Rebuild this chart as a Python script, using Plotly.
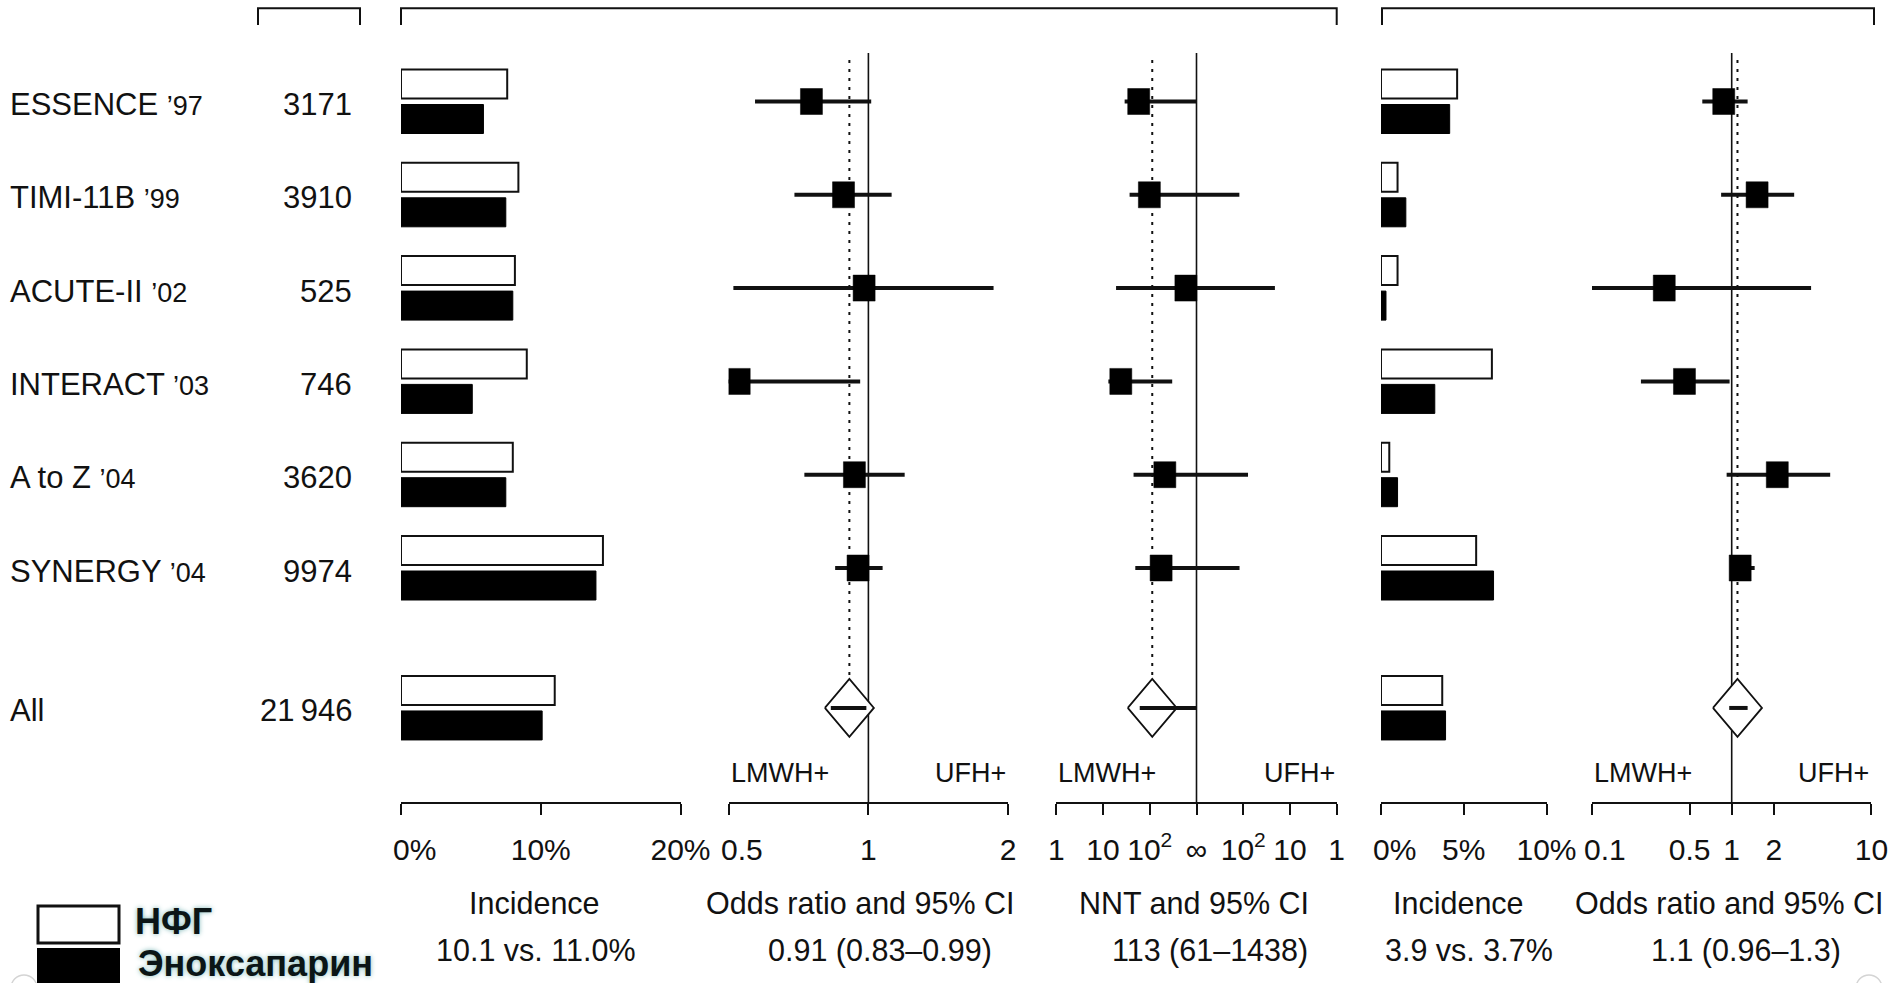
import math
import plotly.graph_objects as go

W, H = 1893, 983

# ---------------- data ----------------
trials = ["ESSENCE", "TIMI-11B", "ACUTE-II", "INTERACT", "A to Z", "SYNERGY", "All"]
years = ["’97", "’99", "’02", "’03", "’04", "’04", ""]
n_patients = ["3171", "3910", "525", "746", "3620", "9974", "21\u2009946"]
row_pos = [0, 1, 2, 3, 4, 5, 6.5]

# Death / MI incidence (%)
eff_ufh = [7.6, 8.4, 8.15, 9.0, 8.0, 14.45, 11.0]
eff_enox = [5.9, 7.5, 8.0, 5.1, 7.5, 13.95, 10.1]
# odds ratios, individual trials
eff_or = [0.754, 0.884, 0.979, 0.527, 0.933, 0.95]
eff_or_lo = [0.57, 0.693, 0.512, 0.497, 0.728, 0.848]
eff_or_hi = [1.014, 1.122, 1.86, 0.96, 1.197, 1.073]
eff_pooled = [0.91, 0.83, 0.99]

# NNT (positive = LMWH benefit, negative = NNH, inf = infinity)
nnt = [58, 98, 593, 24, 210, 175]
nnt_lo = [29, 37, 19, 13, 45, 49]
nnt_hi = [math.inf, -121, -21, 302, -79, -120]
nnt_pooled = [113, 61, 1438]

# Bleeding incidence (%)
bld_ufh = [4.6, 1.0, 1.0, 6.7, 0.5, 5.75, 3.7]
bld_enox = [4.15, 1.5, 0.3, 3.25, 1.0, 6.8, 3.9]
bld_or = [0.877, 1.52, 0.329, 0.459, 2.12, 1.15]
bld_or_lo = [0.616, 0.84, 0.1, 0.224, 0.92, 1.0]
bld_or_hi = [1.30, 2.8, 3.7, 0.966, 5.07, 1.46]
bld_pooled = [1.1, 0.96, 1.3]

panel_titles = ["Incidence", "Odds ratio and 95% CI", "NNT and 95% CI",
                "Incidence", "Odds ratio and 95% CI"]
panel_subtitles = ["10.1 vs. 11.0%", "0.91 (0.83–0.99)", "113 (61–1438)",
                   "3.9 vs. 3.7%", "1.1 (0.96–1.3)"]
legend_labels = ["НФГ", "Эноксапарин"]

inc1_ticks = [0, 10, 20]
inc2_ticks = [0, 5, 10]
or1_ticks = [0.5, 1, 2]
or2_ticks = [0.1, 0.5, 1, 2, 10]
nnt_tick_text = ["1", "10", "10<sup>2</sup>", "∞", "10<sup>2</sup>", "10", "1"]

# ---------------- geometry ----------------
FONT = "Liberation Sans, Arial, sans-serif"
INK = "#111111"
ROW0_PX, ROW_PX = 101.5, 93.3
AXIS_PX = 803
TICKLABEL_PX = 849
FIRST_LABEL_SHIFT = 13   # the first label of a panel sits a little right of its tick


def py(px):
    return (px - ROW0_PX) / ROW_PX


def pfy(px):
    return 1 - px / H


def nnt_scale(v):
    if v == math.inf:
        return 0.0
    if v > 0:
        return min(0.0, -(3 - math.log10(v)))
    return max(0.0, 3 - math.log10(-v))


lg = math.log10
panels = {
    "x": (401, 680.5, 0, 20),
    "x2": (728.6, 1008.2, lg(0.5), lg(2)),
    "x3": (1056.3, 1336.7, -3, 3),
    "x4": (1381, 1546.5, 0, 10),
    "x5": (1592, 1871.4, -1, 1),
}


def ppu(ax):
    l, r, a, b = panels[ax]
    return (r - l) / (b - a)


fig = go.Figure()

# ---- incidence bars ----
BAR_W = 29 / ROW_PX
BAR_GAP = 3 / ROW_PX
for ax, ufh, enox in (("x", eff_ufh, eff_enox), ("x4", bld_ufh, bld_enox)):
    fig.add_trace(go.Bar(x=ufh, y=row_pos, orientation="h", base=0,
                         offset=-(BAR_W + BAR_GAP), width=BAR_W,
                         marker=dict(color="white", line=dict(color=INK, width=2)),
                         xaxis=ax, yaxis="y", showlegend=False, hoverinfo="skip"))
    fig.add_trace(go.Bar(x=enox, y=row_pos, orientation="h", base=0,
                         offset=BAR_GAP, width=BAR_W,
                         marker=dict(color="black", line=dict(color="black", width=1)),
                         xaxis=ax, yaxis="y", showlegend=False, hoverinfo="skip"))

# ---- forest panels ----
SOLID_TOP = py(53)
DOT_TOP = py(60)
AXIS_Y = py(AXIS_PX)
SQ_HW_PX, SQ_HH = 11, 13 / ROW_PX
DM_HW_PX, DM_HH = 24.5, 29 / ROW_PX

forest = [
    ("x2", [lg(v) for v in eff_or], [lg(v) for v in eff_or_lo], [lg(v) for v in eff_or_hi],
     [lg(v) for v in eff_pooled], 0.0),
    ("x3", [nnt_scale(v) for v in nnt], [nnt_scale(v) for v in nnt_lo],
     [nnt_scale(v) for v in nnt_hi], [nnt_scale(v) for v in nnt_pooled], 0.0),
    ("x5", [lg(v) for v in bld_or], [lg(v) for v in bld_or_lo], [lg(v) for v in bld_or_hi],
     [lg(v) for v in bld_pooled], 0.0),
]

for ax, est, lo, hi, pooled, null in forest:
    u = ppu(ax)
    fig.add_trace(go.Scatter(x=[null, null], y=[SOLID_TOP, AXIS_Y], mode="lines",
                             line=dict(color=INK, width=1.6), xaxis=ax, yaxis="y",
                             showlegend=False, hoverinfo="skip"))
    fig.add_trace(go.Scatter(x=[pooled[0], pooled[0]], y=[DOT_TOP, row_pos[-1]], mode="lines",
                             line=dict(color=INK, width=2, dash="3px,6px"), xaxis=ax, yaxis="y",
                             showlegend=False, hoverinfo="skip"))
    xs, ys = [], []
    for a, b, y in zip(lo, hi, row_pos):
        xs += [a, b, None]
        ys += [y, y, None]
    fig.add_trace(go.Scatter(x=xs, y=ys, mode="lines", line=dict(color=INK, width=4),
                             xaxis=ax, yaxis="y", showlegend=False, hoverinfo="skip"))
    hw = SQ_HW_PX / u
    xs, ys = [], []
    for e, y in zip(est, row_pos):
        xs += [e - hw, e + hw, e + hw, e - hw, e - hw, None]
        ys += [y - SQ_HH, y - SQ_HH, y + SQ_HH, y + SQ_HH, y - SQ_HH, None]
    fig.add_trace(go.Scatter(x=xs, y=ys, mode="lines", fill="toself", fillcolor="black",
                             line=dict(color="black", width=0.5), xaxis=ax, yaxis="y",
                             showlegend=False, hoverinfo="skip"))
    dhw = DM_HW_PX / u
    yc = row_pos[-1]
    c = pooled[0]
    fig.add_trace(go.Scatter(x=[c - dhw, c, c + dhw, c, c - dhw],
                             y=[yc, yc - DM_HH, yc, yc + DM_HH, yc],
                             mode="lines", fill="toself", fillcolor="white",
                             line=dict(color=INK, width=1.8), xaxis=ax, yaxis="y",
                             showlegend=False, hoverinfo="skip"))
    fig.add_trace(go.Scatter(x=[pooled[1], pooled[2]], y=[yc, yc], mode="lines",
                             line=dict(color=INK, width=4), xaxis=ax, yaxis="y",
                             showlegend=False, hoverinfo="skip"))

# ---- axes ----
axis_common = dict(anchor="free", position=pfy(AXIS_PX), showline=True, linecolor=INK,
                   linewidth=2, ticks="outside", ticklen=11, tickwidth=2, tickcolor=INK,
                   ticklabelstandoff=9,
                   showgrid=False, zeroline=False, fixedrange=True, automargin=False,
                   tickfont=dict(family=FONT, size=30, color=INK))

tick_defs = {
    "x": (list(inc1_ticks), [f"{v}%" for v in inc1_ticks]),
    "x2": ([lg(v) for v in or1_ticks], [f"{v:g}" for v in or1_ticks]),
    "x3": ([-3, -2, -1, 0, 1, 2, 3], nnt_tick_text),
    "x4": (list(inc2_ticks), [f"{v}%" for v in inc2_ticks]),
    "x5": ([lg(v) for v in or2_ticks], [f"{v:g}" for v in or2_ticks]),
}
shifted_first = ("x", "x2", "x4", "x5")

layout_axes = {}
ann = []
for ax, (l, r, a, b) in panels.items():
    name = "xaxis" if ax == "x" else "xaxis" + ax[1:]
    tv, tt = tick_defs[ax]
    if ax in shifted_first:
        # first label drawn slightly right of its tick, as in the original figure
        ann.append(dict(text=tt[0], xref=ax, yref="paper", x=tv[0], y=pfy(TICKLABEL_PX),
                        xshift=FIRST_LABEL_SHIFT, xanchor="center", yanchor="middle",
                        showarrow=False, font=dict(family=FONT, size=30, color=INK)))
        tt = [" "] + tt[1:]
    layout_axes[name] = dict(domain=[l / W, r / W], range=[a, b], tickvals=tv, ticktext=tt,
                             **axis_common)

fig.update_layout(
    template="none",
    width=W, height=H, autosize=False,
    margin=dict(l=0, r=0, t=0, b=0, pad=0, autoexpand=False),
    paper_bgcolor="white", plot_bgcolor="rgba(0,0,0,0)",
    barmode="overlay", showlegend=False,
    font=dict(family=FONT, color=INK),
    yaxis=dict(domain=[0, 1], range=[py(H), py(0)], visible=False, fixedrange=True,
               automargin=False),
    **layout_axes,
)

# ---- annotations ----
for t, yr, n, y in zip(trials, years, n_patients, row_pos):
    label = t + (f" <span style='font-size:27px'>{yr}</span>" if yr else "")
    ann.append(dict(text=label, xref="paper", yref="y", x=8 / W, y=y, xanchor="left",
                    yanchor="middle", yshift=-3, showarrow=False,
                    font=dict(family=FONT, size=31, color=INK)))
    ann.append(dict(text=n, xref="paper", yref="y", x=354 / W, y=y, xanchor="right",
                    yanchor="middle", yshift=-3, showarrow=False,
                    font=dict(family=FONT, size=31, color=INK)))

for ax in ("x2", "x3", "x5"):
    l, r, a, b = panels[ax]
    ann.append(dict(text="LMWH+", xref="paper", yref="paper", x=l / W, y=pfy(773),
                    xanchor="left", yanchor="middle", showarrow=False,
                    font=dict(family=FONT, size=27, color=INK)))
    ann.append(dict(text="UFH+", xref="paper", yref="paper", x=r / W, y=pfy(773),
                    xanchor="right", yanchor="middle", showarrow=False,
                    font=dict(family=FONT, size=27, color=INK)))

title_cx = [534, 860, 1194, 1458, 1729]
sub_cx = [536, 880, 1210, 1469, 1746]
for t, s, cx, sx in zip(panel_titles, panel_subtitles, title_cx, sub_cx):
    ann.append(dict(text=t, xref="paper", yref="paper", x=cx / W, y=pfy(903),
                    xanchor="center", yanchor="middle", showarrow=False,
                    font=dict(family=FONT, size=30.5, color=INK)))
    ann.append(dict(text=s, xref="paper", yref="paper", x=sx / W, y=pfy(950),
                    xanchor="center", yanchor="middle", showarrow=False,
                    font=dict(family=FONT, size=30.5, color=INK)))

legend_y = [921, 963]
legend_x = [133, 136]
for lab, lx, ly in zip(legend_labels, legend_x, legend_y):
    ann.append(dict(text=f"<b>{lab}</b>", xref="paper", yref="paper", x=lx / W, y=pfy(ly),
                    xanchor="left", yanchor="middle", showarrow=False,
                    font=dict(family=FONT, size=36, color="#0b1516",
                              shadow="0px 0px 5px #7fb8b8")))
fig.update_layout(annotations=ann)

# ---- decorative shapes: top brackets, legend swatches ----
shapes = []
for l, r in ((258, 360), (401, 1336.7), (1382, 1874)):
    shapes.append(dict(type="path", xref="paper", yref="paper",
                       path=f"M {l / W},{pfy(25)} L {l / W},{pfy(8.3)} L {r / W},{pfy(8.3)} L {r / W},{pfy(25)}",
                       line=dict(color=INK, width=2)))
shapes.append(dict(type="rect", xref="paper", yref="paper", x0=38 / W, x1=119 / W,
                   y0=pfy(943), y1=pfy(906), fillcolor="white", line=dict(color=INK, width=3)))
shapes.append(dict(type="rect", xref="paper", yref="paper", x0=37 / W, x1=120 / W,
                   y0=pfy(995), y1=pfy(948), fillcolor="black", line=dict(color="black", width=0)))
for cx in (24, 1869):
    shapes.append(dict(type="circle", xref="paper", yref="paper",
                       x0=(cx - 13) / W, x1=(cx + 13) / W, y0=pfy(1001), y1=pfy(975),
                       line=dict(color="#d4d4d4", width=1.5)))
fig.update_layout(shapes=shapes)

fig.write_html("out.html", config={"displayModeBar": False},
               post_script="document.body.style.margin='0px';document.body.style.overflow='hidden';")
